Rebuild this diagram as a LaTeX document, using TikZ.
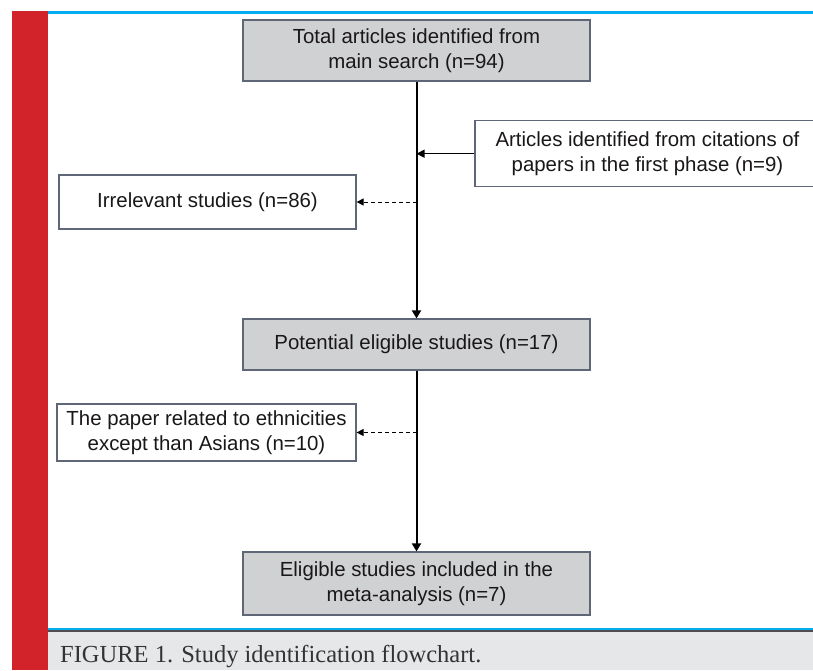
\documentclass[tikz,border=0pt]{standalone}
\usepackage{fontspec}
\setmainfont{Liberation Sans}
\newfontfamily\capfont{Liberation Serif}
\usetikzlibrary{arrows.meta}
\definecolor{barred}{HTML}{D2232A}
\definecolor{barblue}{HTML}{00AEEF}
\definecolor{boxgray}{HTML}{D0D1D3}
\definecolor{boxedge}{HTML}{5E6677}
\definecolor{capgray}{HTML}{E6E7E8}
\definecolor{capline}{HTML}{4D4D4F}
\definecolor{captxt}{HTML}{333335}
\definecolor{txt}{HTML}{1A1718}
\tikzset{
  flowbox/.style={draw=boxedge, line width=1.2pt, inner sep=0pt, align=center,
    text=txt, font=\fontsize{20.4}{25.5}\selectfont},
  graybox/.style={flowbox, fill=boxgray},
  whitebox/.style={flowbox, fill=white},
  mainarrow/.style={line width=2pt, -{Triangle[length=8pt,width=9pt]}},
  sidearrow/.style={line width=1.2pt, -{Triangle[length=8pt,width=8pt]}},
  excluded/.style={line width=1pt, dash pattern=on 4pt off 3pt, -{Triangle[length=7pt,width=7pt]}},
}
\begin{document}
\begin{tikzpicture}[x=1pt,y=-1pt]
\useasboundingbox (0,0) rectangle (813,670);
\clip (0,0) rectangle (813,670);
% frame decorations
\fill[barred] (12,11) rectangle (48,670);
\fill[barblue] (48,11) rectangle (813,13.7);
\fill[barblue] (48,627.7) rectangle (813,630);
\fill[capline] (48,630) rectangle (813,631.6);
\fill[capgray] (48,631.6) rectangle (813,670);
\node[anchor=base west, inner sep=0pt, text=captxt, font=\capfont\fontsize{24.5}{28}\selectfont] (cap) at (60,662.7) {FIGURE 1. Study identification flowchart.};
% boxes
\node[graybox, minimum width=347pt, minimum height=61pt] (total) at (416.5,50.5) {Total articles identified from\\main search (n=94)};
\node[whitebox, minimum width=345pt, minimum height=66pt] (cit) at (647.5,153.7) {Articles identified from citations of\\papers in the first phase (n=9)};
\node[whitebox, minimum width=297pt, minimum height=54pt] (irr) at (207.5,202) {Irrelevant studies (n=86)};
\node[graybox, minimum width=347pt, minimum height=51pt] (pot) at (416.5,344.5) {Potential eligible studies (n=17)};
\node[whitebox, minimum width=299pt, minimum height=57pt] (eth) at (206.5,432.5) {The paper related to ethnicities\\except than Asians (n=10)};
\node[graybox, minimum width=347pt, minimum height=63pt] (elig) at (416.5,583.5) {Eligible studies included in the\\meta-analysis (n=7)};
% connectors
\draw[mainarrow] (total.south) -- (pot.north);
\draw[mainarrow] (pot.south) -- (elig.north);
\draw[sidearrow] (cit.west) -- (cit.west -| total.south);
\draw[excluded] (irr.east -| total.south) -- (irr.east);
\draw[excluded] (eth.east -| total.south) -- (eth.east);
\end{tikzpicture}
\end{document}
